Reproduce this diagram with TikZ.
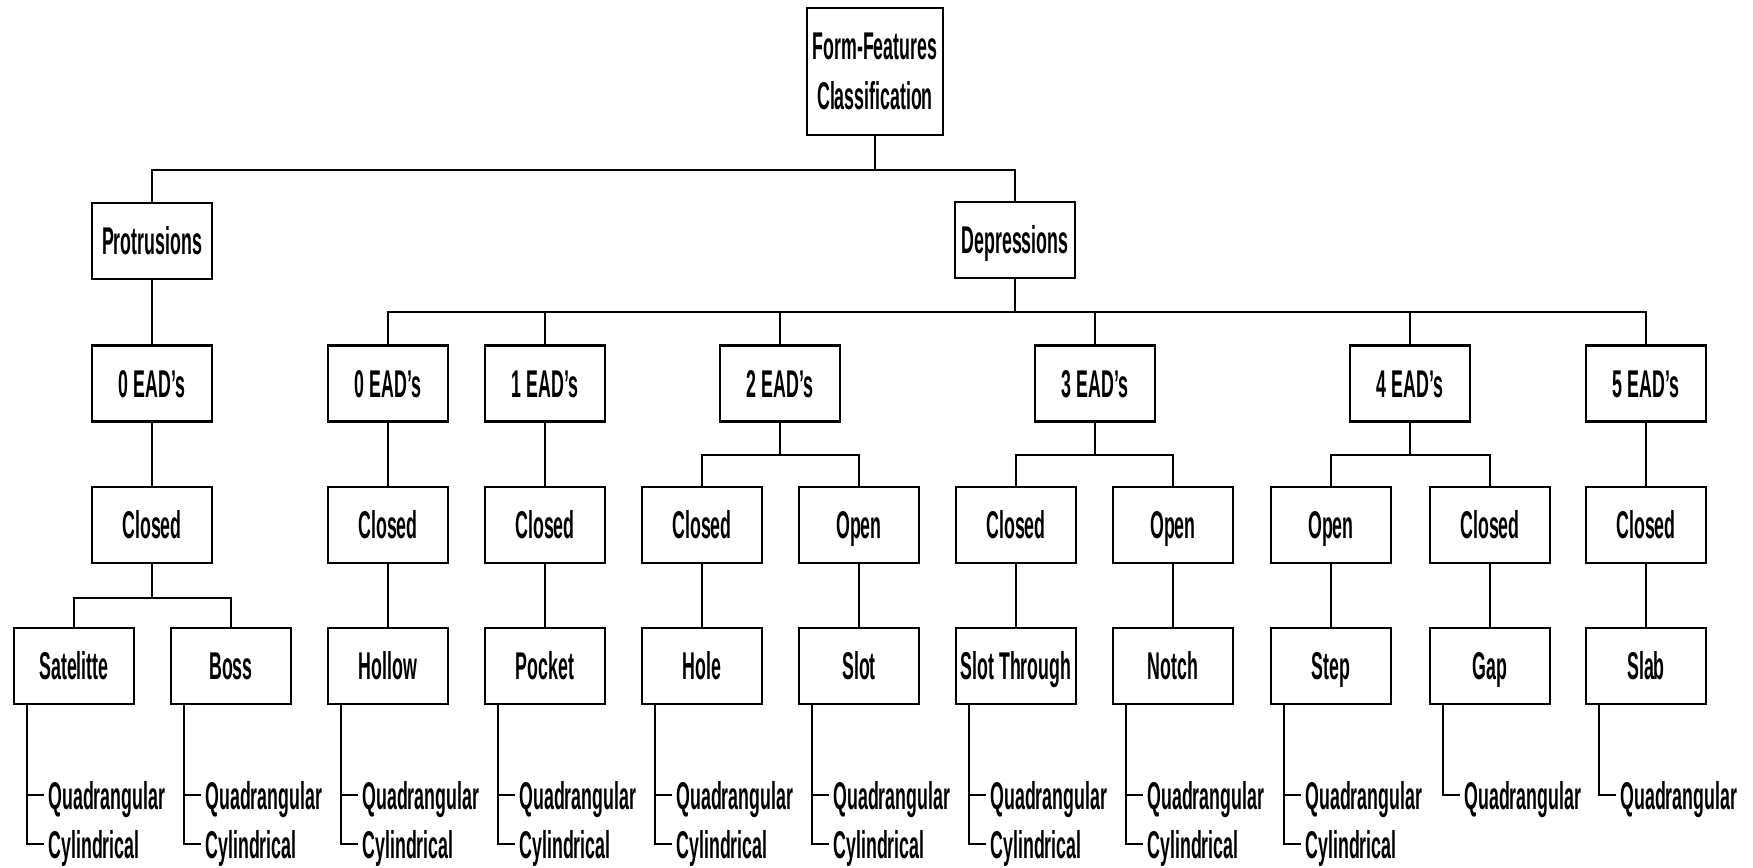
\documentclass[tikz,border=0pt]{standalone}
\usepackage{fontspec}
\setmainfont{Liberation Sans}[FakeStretch=0.46]
\begin{document}
\begin{tikzpicture}[x=0.01cm, y=-0.01cm, line width=0.65pt,
        font=\fontsize{11pt}{14.2pt}\selectfont\bfseries,
        box/.style={draw, minimum width=1.2cm, minimum height=0.76cm, inner sep=0pt, text height=0.28cm, text depth=0pt},
        leaf/.style={anchor=west, inner xsep=1pt, inner ysep=0pt, text height=0.28cm, text depth=0pt}]
        \useasboundingbox (0,0) rectangle (1753,868);

        \node[draw, minimum width=1.36cm, minimum height=1.27cm, inner sep=0pt, align=center] (root) at (875,71.5) {Form-Features\\Classification};

        \node[box] (prot) at (152,241) {Protrusions};
        \node[box] (dep) at (1015,240) {Depressions};

        \node[box] (pead0) at (152,383.5) {0 EAD's};
        \node[box] (ead0) at (388,383.5) {0 EAD's};
        \node[box] (ead1) at (545,383.5) {1 EAD's};
        \node[box] (ead2) at (780,383.5) {2 EAD's};
        \node[box] (ead3) at (1095,383.5) {3 EAD's};
        \node[box] (ead4) at (1410,383.5) {4 EAD's};
        \node[box] (ead5) at (1646,383.5) {5 EAD's};

        \node[box] (pclosed) at (152,525) {Closed};
        \node[box] (c0) at (388,525) {Closed};
        \node[box] (c1) at (545,525) {Closed};
        \node[box] (c2) at (702,525) {Closed};
        \node[box] (o2) at (859,525) {Open};
        \node[box] (c3) at (1016,525) {Closed};
        \node[box] (o3) at (1173,525) {Open};
        \node[box] (o4) at (1331,525) {Open};
        \node[box] (c4) at (1490,525) {Closed};
        \node[box] (c5) at (1646,525) {Closed};

        \node[box] (sat) at (74,666) {Satelitte};
        \node[box] (boss) at (231,666) {Boss};
        \node[box] (hollow) at (388,666) {Hollow};
        \node[box] (pocket) at (545,666) {Pocket};
        \node[box] (hole) at (702,666) {Hole};
        \node[box] (slot) at (859,666) {Slot};
        \node[box] (slotth) at (1016,666) {Slot Through};
        \node[box] (notch) at (1173,666) {Notch};
        \node[box] (step) at (1331,666) {Step};
        \node[box] (gap) at (1490,666) {Gap};
        \node[box] (slab) at (1646,666) {Slab};

        % tree lines
        \draw (root.south) -- ++(0,34) -| (prot.north);
        \draw (root.south) -- ++(0,34) -| (dep.north);
        \foreach \n in {ead0,ead1,ead2,ead3,ead4,ead5}
            \draw (dep.south) -- ++(0,33) -| (\n.north);
        \draw (prot) -- (pead0);
        \draw (pead0) -- (pclosed);
        \draw (pclosed.south) -- ++(0,34) -| (sat.north);
        \draw (pclosed.south) -- ++(0,34) -| (boss.north);
        \draw (ead0) -- (c0);
        \draw (ead1) -- (c1);
        \draw (ead2.south) -- ++(0,32) -| (c2.north);
        \draw (ead2.south) -- ++(0,32) -| (o2.north);
        \draw (ead3.south) -- ++(0,32) -| (c3.north);
        \draw (ead3.south) -- ++(0,32) -| (o3.north);
        \draw (ead4.south) -- ++(0,32) -| (o4.north);
        \draw (ead4.south) -- ++(0,32) -| (c4.north);
        \draw (ead5) -- (c5);
        \draw (c0) -- (hollow);
        \draw (c1) -- (pocket);
        \draw (c2) -- (hole);
        \draw (o2) -- (slot);
        \draw (c3) -- (slotth);
        \draw (o3) -- (notch);
        \draw (o4) -- (step);
        \draw (c4) -- (gap);
        \draw (c5) -- (slab);

        % shapes under each feature
        \foreach \f in {sat,boss,hollow,pocket,hole,slot,slotth,notch,step} {
            \coordinate (\f-l) at ([xshift=0.14cm]\f.south west);
            \node[leaf] (\f-q) at ([xshift=0.17cm,yshift=-0.9cm]\f-l) {Quadrangular};
            \node[leaf] (\f-c) at ([xshift=0.17cm,yshift=-1.39cm]\f-l) {Cylindrical};
            \draw (\f-l) |- (\f-c.west);
            \draw (\f-l |- \f-q.west) -- (\f-q.west);
        }
        \foreach \f in {gap,slab} {
            \coordinate (\f-l) at ([xshift=0.14cm]\f.south west);
            \node[leaf] (\f-q) at ([xshift=0.17cm,yshift=-0.9cm]\f-l) {Quadrangular};
            \draw (\f-l) |- (\f-q.west);
        }
\end{tikzpicture}
\end{document}
